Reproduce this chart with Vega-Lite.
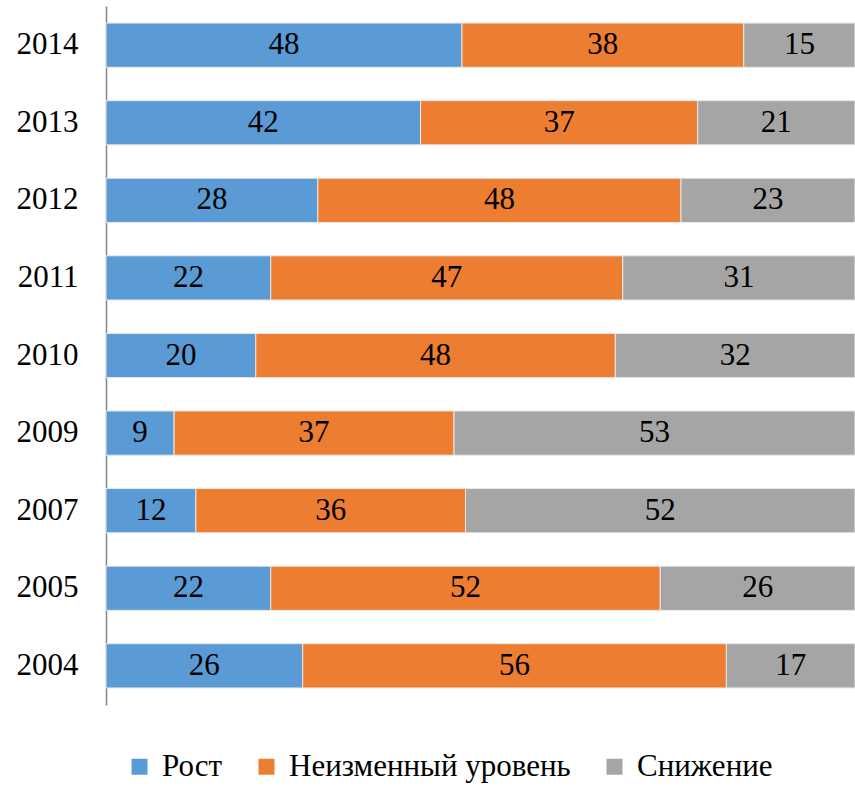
{
  "$schema": "https://vega.github.io/schema/vega-lite/v6.json",
  "width": 749,
  "height": 699,
  "autosize": {"type": "none"},
  "padding": {"left": 106, "top": 6, "right": 0, "bottom": 82},
  "background": "white",
  "config": {
    "view": {"stroke": null},
    "font": "Liberation Serif"
  },
  "data": {
    "values": [
      {"year": "2014", "cat": "Рост", "value": 48, "ord": 1},
      {"year": "2014", "cat": "Неизменный уровень", "value": 38, "ord": 2},
      {"year": "2014", "cat": "Снижение", "value": 15, "ord": 3},
      {"year": "2013", "cat": "Рост", "value": 42, "ord": 1},
      {"year": "2013", "cat": "Неизменный уровень", "value": 37, "ord": 2},
      {"year": "2013", "cat": "Снижение", "value": 21, "ord": 3},
      {"year": "2012", "cat": "Рост", "value": 28, "ord": 1},
      {"year": "2012", "cat": "Неизменный уровень", "value": 48, "ord": 2},
      {"year": "2012", "cat": "Снижение", "value": 23, "ord": 3},
      {"year": "2011", "cat": "Рост", "value": 22, "ord": 1},
      {"year": "2011", "cat": "Неизменный уровень", "value": 47, "ord": 2},
      {"year": "2011", "cat": "Снижение", "value": 31, "ord": 3},
      {"year": "2010", "cat": "Рост", "value": 20, "ord": 1},
      {"year": "2010", "cat": "Неизменный уровень", "value": 48, "ord": 2},
      {"year": "2010", "cat": "Снижение", "value": 32, "ord": 3},
      {"year": "2009", "cat": "Рост", "value": 9, "ord": 1},
      {"year": "2009", "cat": "Неизменный уровень", "value": 37, "ord": 2},
      {"year": "2009", "cat": "Снижение", "value": 53, "ord": 3},
      {"year": "2007", "cat": "Рост", "value": 12, "ord": 1},
      {"year": "2007", "cat": "Неизменный уровень", "value": 36, "ord": 2},
      {"year": "2007", "cat": "Снижение", "value": 52, "ord": 3},
      {"year": "2005", "cat": "Рост", "value": 22, "ord": 1},
      {"year": "2005", "cat": "Неизменный уровень", "value": 52, "ord": 2},
      {"year": "2005", "cat": "Снижение", "value": 26, "ord": 3},
      {"year": "2004", "cat": "Рост", "value": 26, "ord": 1},
      {"year": "2004", "cat": "Неизменный уровень", "value": 56, "ord": 2},
      {"year": "2004", "cat": "Снижение", "value": 17, "ord": 3}
    ]
  },
  "encoding": {
    "y": {
      "field": "year",
      "type": "nominal",
      "sort": ["2014", "2013", "2012", "2011", "2010", "2009", "2007", "2005", "2004"],
      "scale": {"paddingInner": 0.43, "paddingOuter": 0.22},
      "axis": {
        "title": null,
        "ticks": false,
        "labelFont": "Liberation Serif",
        "labelFontSize": 31,
        "labelColor": "black",
        "labelPadding": 28,
        "domainColor": "#868686",
        "domainWidth": 1.5,
        "grid": false
      }
    }
  },
  "layer": [
    {
      "mark": {"type": "bar", "stroke": "#e8e8e8", "strokeWidth": 1},
      "encoding": {
        "x": {"field": "value", "type": "quantitative", "stack": "normalize", "axis": null, "scale": {"domain": [0, 1], "nice": false}},
        "color": {
          "field": "cat",
          "type": "nominal",
          "scale": {
            "domain": ["Рост", "Неизменный уровень", "Снижение"],
            "range": ["#5B9BD5", "#ED7D31", "#A5A5A5"]
          },
          "legend": {
            "title": null,
            "orient": "none",
            "direction": "horizontal",
            "legendX": 18,
            "legendY": 745,
            "symbolType": "square",
            "symbolSize": 256,
            "symbolStrokeWidth": 0,
            "labelFont": "Liberation Serif",
            "labelFontSize": 31,
            "labelColor": "black",
            "labelLimit": 0,
            "labelOffset": 7,
            "columnPadding": 28
          }
        },
        "order": {"field": "ord", "type": "quantitative"}
      }
    },
    {
      "mark": {"type": "text", "fontSize": 31, "font": "Liberation Serif", "color": "black", "baseline": "middle"},
      "encoding": {
        "x": {"field": "value", "type": "quantitative", "stack": "normalize", "bandPosition": 0.5},
        "detail": {"field": "cat"},
        "text": {"field": "value", "type": "quantitative"},
        "order": {"field": "ord", "type": "quantitative"}
      }
    }
  ]
}
